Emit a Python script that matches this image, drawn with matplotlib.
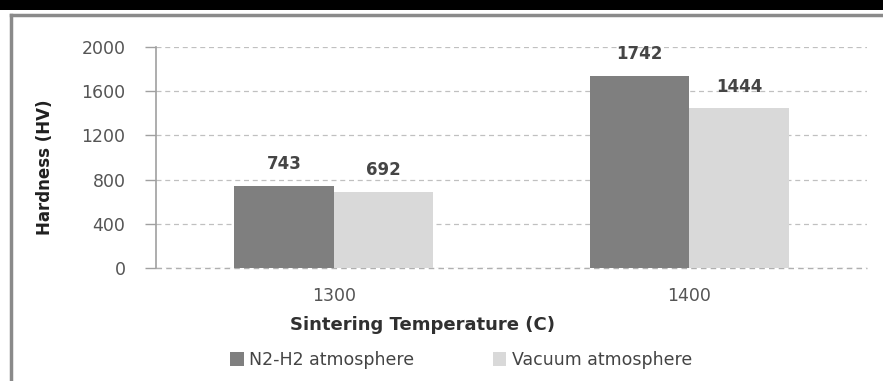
import matplotlib.pyplot as plt
import numpy as np
from matplotlib.patches import Rectangle
from matplotlib.lines import Line2D

temps = ['1300', '1400']
n2h2 = [743, 1742]
vacuum = [692, 1444]
yticks = [0, 400, 800, 1200, 1600, 2000]

fig = plt.figure(figsize=(8.83, 3.81), dpi=100)
fig.patch.set_facecolor('white')

# black band on top + grey frame of the original screenshot
fig.patches.append(Rectangle((0, 1 - 10/381), 1, 10/381, transform=fig.transFigure,
                             facecolor='black', edgecolor='none'))
fig.lines.append(Line2D([11/883, 11/883], [0, 1 - 15/381], transform=fig.transFigure,
                        color='#8a8a8a', lw=2.5))
fig.lines.append(Line2D([11/883, 1], [1 - 15/381, 1 - 15/381], transform=fig.transFigure,
                        color='#8a8a8a', lw=2.5))

ax = fig.add_axes([156/883, 1 - 268/381, (867 - 156)/883, (268 - 47)/381])

x = np.arange(len(temps))
w = 0.28
b1 = ax.bar(x - w/2, n2h2, w, color='#7f7f7f', label='N2-H2 atmosphere', zorder=3)
b2 = ax.bar(x + w/2, vacuum, w, color='#d9d9d9', label='Vacuum atmosphere', zorder=3)

for bars in (b1, b2):
    for r in bars:
        ax.annotate(f'{int(r.get_height())}', (r.get_x() + r.get_width()/2, r.get_height()),
                    xytext=(0, 9), textcoords='offset points', ha='center', va='bottom',
                    fontsize=12, fontweight='bold', color='#454545')

ax.set_xlim(-0.5, 1.5)
ax.set_ylim(0, 2000)
ax.set_yticks(yticks)
ax.set_yticklabels([str(v) for v in yticks])
ax.set_xticks(x)
ax.set_xticklabels(temps)
ax.tick_params(axis='y', length=8, width=1, color='#a0a0a0', labelcolor='#555555',
               labelsize=12.5, pad=14)
ax.tick_params(axis='x', length=0, labelcolor='#555555', labelsize=12.5, pad=14)

ax.grid(axis='y', linestyle=(0, (4, 3)), color='#c0c0c0', lw=0.9, zorder=0)
ax.axhline(0, linestyle=(0, (4, 3)), color='#b0b0b0', lw=1, zorder=2, clip_on=False)
for s in ['top', 'right', 'bottom']:
    ax.spines[s].set_visible(False)
ax.spines['left'].set_color('#a0a0a0')
ax.spines['left'].set_linewidth(1.2)

fig.text(45/883, 1 - 167/381, 'Hardness (HV)', rotation=90, ha='center', va='center',
         fontsize=12, fontweight='bold', color='#202020')
fig.text(423/883, 1 - 325/381, 'Sintering Temperature (C)', ha='center', va='center',
         fontsize=13, fontweight='bold', color='#303030')

fig.legend(handles=[b1, b2], loc='center', bbox_to_anchor=(461/883, 1 - 360/381),
           ncol=2, frameon=False, fontsize=12.5, labelcolor='#444444',
           handlelength=0.8, handleheight=0.8, handletextpad=0.3, columnspacing=4.5)

fig.savefig('out.png', dpi=100)
